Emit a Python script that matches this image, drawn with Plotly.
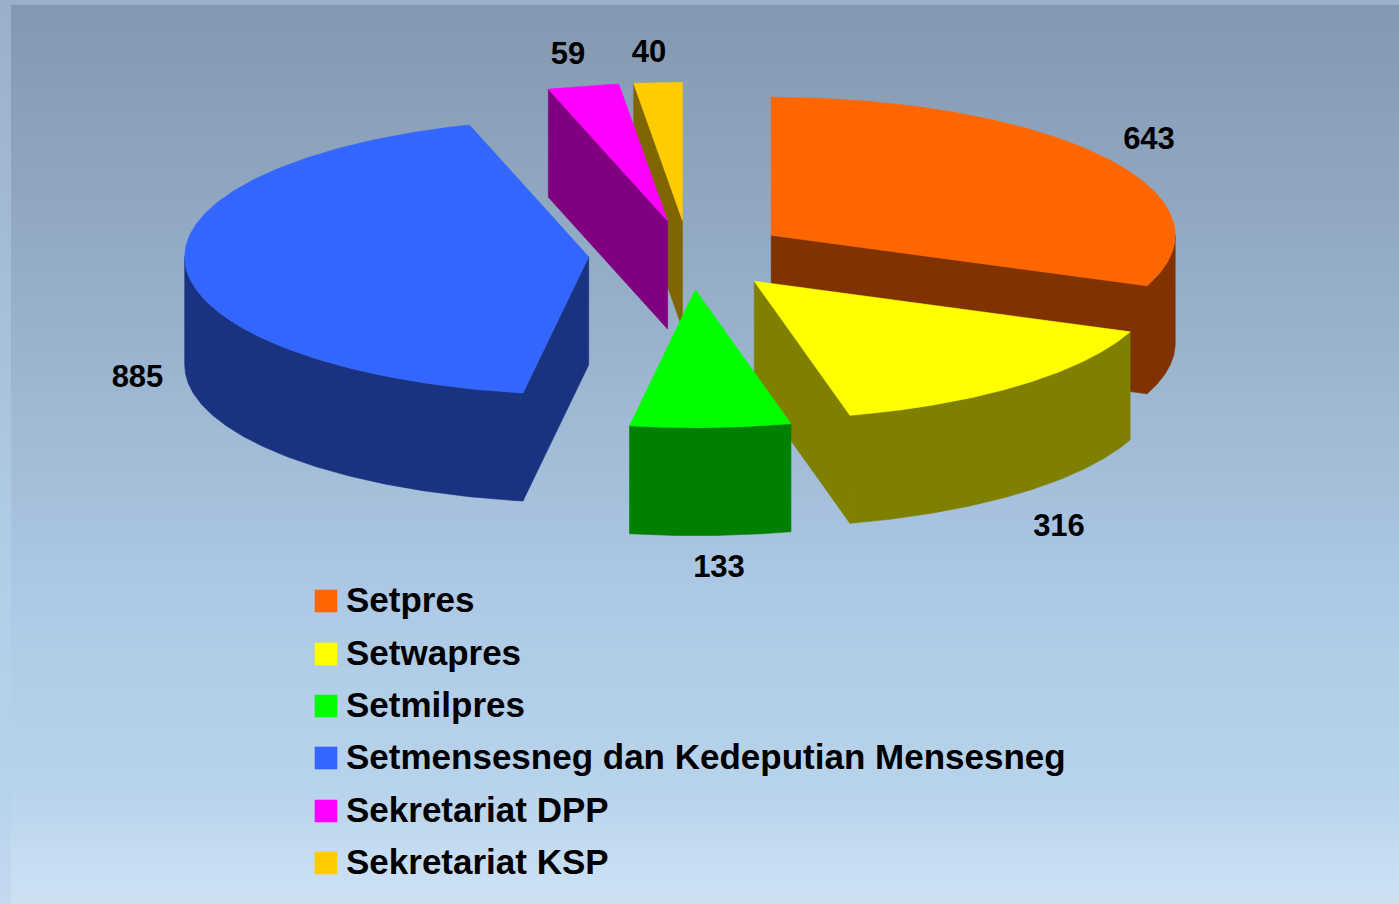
import numpy as np
import plotly.graph_objects as go

# ---- data ----
categories = ["Setpres", "Setwapres", "Setmilpres",
              "Setmensesneg dan Kedeputian Mensesneg", "Sekretariat DPP", "Sekretariat KSP"]
values = [643, 316, 133, 885, 59, 40]

# ---- styles ----
top_colors = ["#FF6600", "#FFFF00", "#00FF00", "#3366FF", "#FF00FF", "#FFCC00"]
side_colors = ["#803300", "#808000", "#008000", "#1A3380", "#800080", "#806600"]
draw_order = [5, 4, 0, 3, 1, 2]
nudge_x = [0, 0, 3, 0, 0, 0]
nudge_y = [0, 1, 1, 0, 0, 0]

# ---- pie projection (pixel-based hidden axes) ----
W, H = 1399, 904
CX, CY, RX, RY, DEPTH, EXPLODE = 688.5, 254.5, 404, 138, 108, 0.2476
FONT = "Liberation Sans"


def point(ax, ay, deg, z=0):
    a = np.radians(deg)
    return ax + RX * np.sin(a), ay - RY * np.cos(a) + z


def poly(fig, xs, ys, color):
    fig.add_trace(go.Scatter(x=list(xs), y=list(ys), mode="lines", fill="toself",
                             fillcolor=color, line=dict(color=color, width=0.6),
                             hoverinfo="skip", showlegend=False))


fig = go.Figure()

# ---- background gradient ----
stops_y = [0, 300, 600, 790, 880, 904]
inner_rgb = [(132, 151, 176), (151, 175, 201), (173, 201, 229), (184, 211, 236), (202, 223, 243), (207, 224, 240)]
strip_rgb = [(154, 175, 202), (166, 190, 216), (178, 207, 233), (182, 210, 236), (194, 216, 240), (197, 217, 239)]


def scale(rgb):
    return [[y / 904, "rgb(%d,%d,%d)" % c] for y, c in zip(stops_y, rgb)]


for x_edges, y_e, rgb in (([0, 11], np.arange(0, 907, 2), strip_rgb),
                          ([11, W + 1], np.arange(5, 907, 2), inner_rgb)):
    y_c = (y_e[:-1] + y_e[1:]) / 2
    fig.add_trace(go.Heatmap(x=x_edges, y=y_e, z=[[v] for v in y_c], zmin=0, zmax=904,
                             colorscale=scale(rgb), showscale=False, hoverinfo="skip"))

# ---- 3D pie ----
total = sum(values)
cum = np.concatenate([[0], np.cumsum(values)]) * 360 / total
for i in draw_order:
    a0, a1 = cum[i], cum[i + 1]
    mid = np.radians((a0 + a1) / 2)
    ax = CX + EXPLODE * RX * np.sin(mid) + nudge_x[i]
    ay = CY - EXPLODE * RY * np.cos(mid) + nudge_y[i]
    # radial faces turned toward the viewer
    for a, visible in ((a0, np.sin(np.radians(a0)) < -1e-9), (a1, np.sin(np.radians(a1)) > 1e-9)):
        if visible:
            px, py = point(ax, ay, a)
            poly(fig, [ax, px, px, ax, ax], [ay, py, py + DEPTH, ay + DEPTH, ay], side_colors[i])
    # outer rim, front half only
    lo, hi = max(a0, 90), min(a1, 270)
    if hi > lo:
        t = np.linspace(lo, hi, 120)
        px, py = point(ax, ay, t)
        poly(fig, np.r_[px, px[::-1], px[0]], np.r_[py, py[::-1] + DEPTH, py[0]], side_colors[i])
    # top face
    t = np.linspace(a0, a1, 200)
    px, py = point(ax, ay, t)
    poly(fig, np.r_[ax, px, ax], np.r_[ay, py, ay], top_colors[i])

# ---- value labels ----
label_x = [1149, 1059, 719, 137.5, 568, 649]
label_y = [141.5, 528.5, 569.5, 379.5, 56.5, 54.5]
fig.add_trace(go.Scatter(x=label_x, y=label_y, mode="text", text=[str(v) for v in values],
                         textposition="middle center", hoverinfo="skip", showlegend=False,
                         textfont=dict(family=FONT, size=31, color="#000000", weight="bold")))

# ---- legend ----
legend_y = [601, 654, 706, 758, 811, 863]
for name, color, y in zip(categories, top_colors, legend_y):
    poly(fig, [315, 337, 337, 315, 315], [y - 11, y - 11, y + 11, y + 11, y - 11], color)
fig.add_trace(go.Scatter(x=[346] * 6, y=[y + 2.5 for y in legend_y], mode="text", text=categories,
                         textposition="middle right", hoverinfo="skip", showlegend=False,
                         textfont=dict(family=FONT, size=35, color="#000000", weight="bold")))

fig.update_layout(
    width=W, height=H, margin=dict(l=0, r=0, t=0, b=0), autosize=False,
    paper_bgcolor="#9AAFCA", plot_bgcolor="#9AAFCA", showlegend=False, hovermode=False,
    xaxis=dict(range=[0, W], visible=False, fixedrange=True),
    yaxis=dict(range=[H, 0], visible=False, fixedrange=True),
)
fig.write_html("out.html", config={"displayModeBar": False},
               post_script="document.body.style.margin='0';document.body.style.overflow='hidden';")
